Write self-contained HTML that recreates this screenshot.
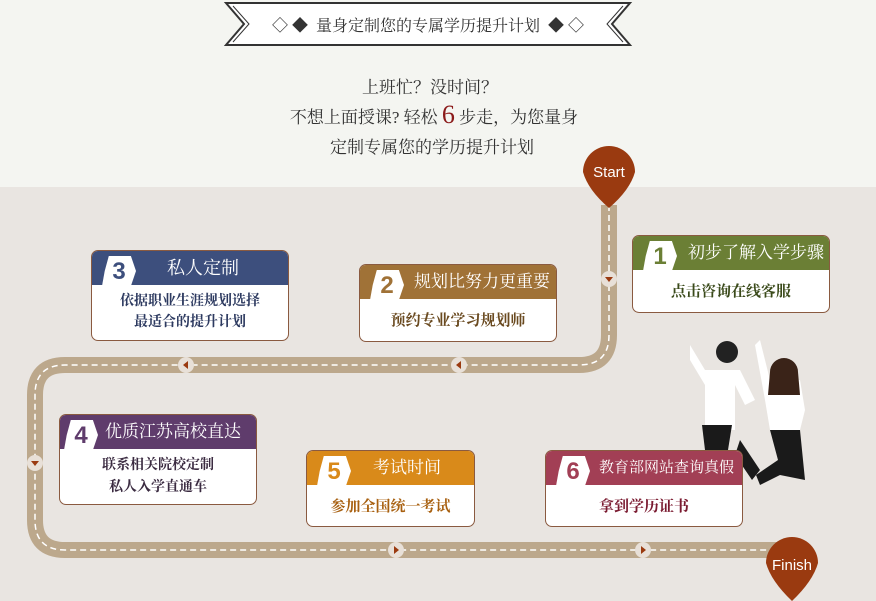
<!DOCTYPE html>
<html><head><meta charset="utf-8"><style>
body{margin:0;width:876px;height:601px;overflow:hidden;position:relative;background:#e9e5e1;font-family:"Liberation Serif","Noto Serif CJK SC",serif;}
.top{position:absolute;left:0;top:0;width:876px;height:187px;background:#f4f5f1;}
.t{position:absolute;left:0;width:876px;text-align:center;color:#333;font-size:17px;}
.box{position:absolute;background:#fff;border:1px solid #8a5a40;border-radius:7px;overflow:hidden;box-sizing:border-box;}
.hd{height:34px;color:#fff;font-size:17px;line-height:34px;position:relative;white-space:nowrap;}
.num{position:absolute;left:10px;top:5px;width:34px;height:30px;background:#fff;clip-path:polygon(20% 0,85% 0,100% 50%,85% 100%,0 100%,8% 50%);font-family:"Liberation Sans",sans-serif;font-weight:bold;font-size:24px;line-height:32px;text-align:center;}
.bd{text-align:center;font-size:15px;font-weight:bold;}
</style></head><body>
<div class="top"></div>
<svg style="position:absolute;left:0;top:0" width="876" height="601">
<polygon points="226,3 630,3 612,24 630,45 226,45 244,24" fill="#fff" stroke="#333" stroke-width="2"/>
<polyline points="233,6 249,24 233,42" fill="none" stroke="#333"/>
<polyline points="623,6 607,24 623,42" fill="none" stroke="#333"/>
<g fill="none" stroke="#bca88c" stroke-width="16">
<path d="M609,205 V335 Q609,365 579,365 H65 Q35,365 35,395 V520 Q35,550 65,550 H790"/>
</g>
<g fill="none" stroke="#fff" stroke-width="1.5" stroke-dasharray="6,4">
<path d="M609,205 V335 Q609,365 579,365 H65 Q35,365 35,395 V520 Q35,550 65,550 H790"/>
</g>
<g fill="#e8e0d8"><circle cx="609" cy="279" r="8"/><circle cx="459" cy="365" r="8"/><circle cx="186" cy="365" r="8"/><circle cx="35" cy="463" r="8"/><circle cx="396" cy="550" r="8"/><circle cx="643" cy="550" r="8"/></g>
<g fill="#9a3a10"><polygon points="605,277 613,277 609,282"/><polygon points="461,361 461,369 456,365"/><polygon points="188,361 188,369 183,365"/><polygon points="31,461 39,461 35,466"/><polygon points="394,546 394,554 399,550"/><polygon points="641,546 641,554 646,550"/>
<path d="M583,172 A26,26 0 1 1 635,172 Q630,190 609,208 Q588,190 583,172Z"/>
<path d="M766,563 A26,26 0 1 1 818,563 Q813,581 792,601 Q771,581 766,563Z"/></g>
<text x="609" y="177" fill="#fff" font-family="Liberation Sans" font-size="15" text-anchor="middle">Start</text>
<text x="792" y="570" fill="#fff" font-family="Liberation Sans" font-size="15" text-anchor="middle">Finish</text>
<g><path d="M690,345 L705,370 L740,370 L755,400 L745,405 L735,385 L735,430 L705,430 L705,385 L690,360Z" fill="#fff"/><path d="M760,340 L770,380 L800,380 L805,410 L800,430 L770,430 L765,400 L755,345Z" fill="#fff"/><path d="M702,425 L732,425 L728,450 L705,450Z" fill="#1a1a1a"/><path d="M740,440 L760,470 L752,480 L735,455Z" fill="#1a1a1a"/><path d="M770,430 L800,430 L805,480 L780,475 L760,485 L756,475 L778,460Z" fill="#1a1a1a"/><circle cx="727" cy="352" r="11" fill="#222"/><path d="M770,372 A14,14 0 1 1 798,372 L800,395 L768,395Z" fill="#3a2318"/></g>
</svg>
<div class="t" style="top:13px;font-size:16px;left:-10px">◇ ◆ &nbsp;量身定制您的专属学历提升计划&nbsp; ◆ ◇</div>
<div class="t" style="top:73px;left:-8px">上班忙？没时间？</div>
<div class="t" style="top:100px;left:-4px">不想上面授课? 轻松 <span style="color:#8b1a1a;font-size:26px">6</span> 步走，为您量身</div>
<div class="t" style="top:133px;left:-6px">定制专属您的学历提升计划</div>

<div class="box" style="left:632px;top:235px;width:198px;height:78px"><div class="hd" style="background:#6b7f35"><div class="num" style="color:#6b7f35">1</div><span style="margin-left:55px">初步了解入学步骤</span></div><div class="bd" style="color:#3a4a1a;line-height:44px">点击咨询在线客服</div></div>
<div class="box" style="left:359px;top:264px;width:198px;height:78px"><div class="hd" style="background:#a07237"><div class="num" style="color:#a07237">2</div><span style="margin-left:54px">规划比努力更重要</span></div><div class="bd" style="color:#6a4a20;line-height:44px">预约专业学习规划师</div></div>
<div class="box" style="left:91px;top:250px;width:198px;height:91px"><div class="hd" style="background:#3d4f7d;font-size:18px"><div class="num" style="color:#3d4f7d">3</div><span style="margin-left:75px">私人定制</span></div><div class="bd" style="color:#2d3a60;font-size:14px;line-height:21px;padding-top:6px">依据职业生涯规划选择<br>最适合的提升计划</div></div>
<div class="box" style="left:59px;top:414px;width:198px;height:91px"><div class="hd" style="background:#5f3c6c"><div class="num" style="color:#5f3c6c;left:4px">4</div><span style="margin-left:45px">优质江苏高校直达</span></div><div class="bd" style="color:#3a2a40;font-size:14px;line-height:22px;padding-top:6px">联系相关院校定制<br>私人入学直通车</div></div>
<div class="box" style="left:306px;top:450px;width:169px;height:77px"><div class="hd" style="background:#d98a1a"><div class="num" style="color:#d98a1a">5</div><span style="margin-left:66px">考试时间</span></div><div class="bd" style="color:#a86010;line-height:44px">参加全国统一考试</div></div>
<div class="box" style="left:545px;top:450px;width:198px;height:77px"><div class="hd" style="background:#a23f55;font-size:15px"><div class="num" style="color:#a23f55">6</div><span style="margin-left:53px">教育部网站查询真假</span></div><div class="bd" style="color:#7a1a30;line-height:44px">拿到学历证书</div></div>
</body></html>
